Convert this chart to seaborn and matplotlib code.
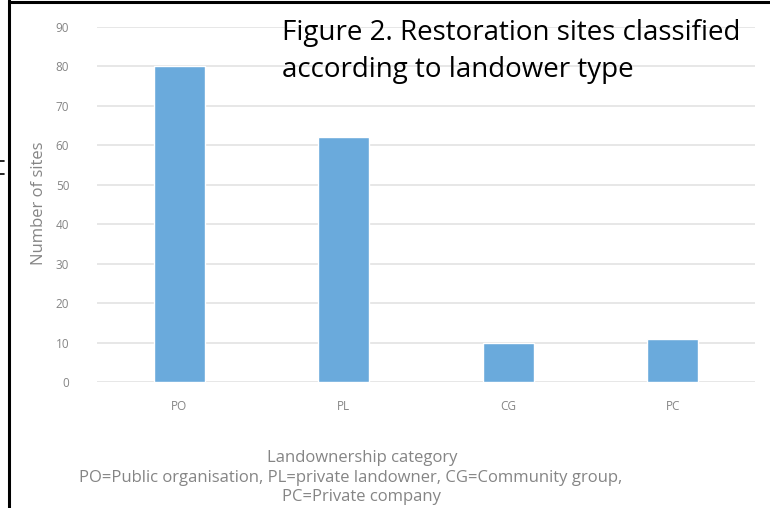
import matplotlib
matplotlib.use("Agg")
import matplotlib.pyplot as plt
from matplotlib.lines import Line2D
import pandas as pd
import seaborn as sns

# data
categories = ["PO", "PL", "CG", "PC"]
sites = [80, 62, 10, 11]
y_ticks = [0, 10, 20, 30, 40, 50, 60, 70, 80, 90]

BAR_COLOR = "#6aaadc"
GREY = "#858585"

sns.set_theme(style="white")
plt.rcParams["font.family"] = ["Open Sans", "DejaVu Sans"]

df = pd.DataFrame({"category": categories, "sites": sites})

fig = plt.figure(figsize=(7.7, 5.08), dpi=100)
ax = fig.add_axes([97 / 770, 1 - 382 / 508, (755 - 97) / 770, (382 - 27) / 508])

sns.barplot(data=df, x="category", y="sites", color=BAR_COLOR, width=0.31,
            saturation=1, ax=ax, zorder=3)

ax.set_ylim(0, 90)
ax.set_xlim(-0.5, len(categories) - 0.5)
ax.set_yticks(y_ticks)
ax.yaxis.grid(True, color="#e3e3e3", linewidth=1.2, zorder=0)
ax.set_axisbelow(True)
for s in ax.spines.values():
    s.set_visible(False)
ax.tick_params(axis="y", length=0, pad=20, labelsize=8.5, labelcolor=GREY)
ax.tick_params(axis="x", length=0, pad=13, labelsize=8.5, labelcolor=GREY)
ax.set_ylabel("Number of sites", fontsize=12, color=GREY)
ax.yaxis.set_label_coords((47 - 97) / 658, (382 - 203) / 355)
ax.set_xlabel("")

# text below the axis
fig.text(362 / 770, 1 - 458 / 508, "Landownership category", ha="center", va="center",
         fontsize=12, color=GREY)
fig.text(351 / 770, 1 - 478 / 508,
         "PO=Public organisation, PL=private landowner, CG=Community group,",
         ha="center", va="center", fontsize=12, color=GREY)
fig.text(362 / 770, 1 - 497 / 508, "PC=Private company", ha="center", va="center",
         fontsize=12, color=GREY)

# overlaid caption
fig.text(282 / 770, 1 - 19 / 508,
         "Figure 2. Restoration sites classified\naccording to landower type",
         ha="left", va="top", fontsize=20, color="black", linespacing=1.45)

# frame lines around the picture
fig.add_artist(Line2D([9 / 770, 9 / 770], [0, 1], color="black", linewidth=2.2,
                      transform=fig.transFigure))
fig.add_artist(Line2D([9 / 770, 1], [1 - 1.5 / 508, 1 - 1.5 / 508], color="black",
                      linewidth=2.2, transform=fig.transFigure))
for yy in (161, 174):
    fig.add_artist(Line2D([0, 4 / 770], [1 - yy / 508, 1 - yy / 508], color="black",
                          linewidth=1.2, transform=fig.transFigure))

fig.savefig("out.png", dpi=100)
